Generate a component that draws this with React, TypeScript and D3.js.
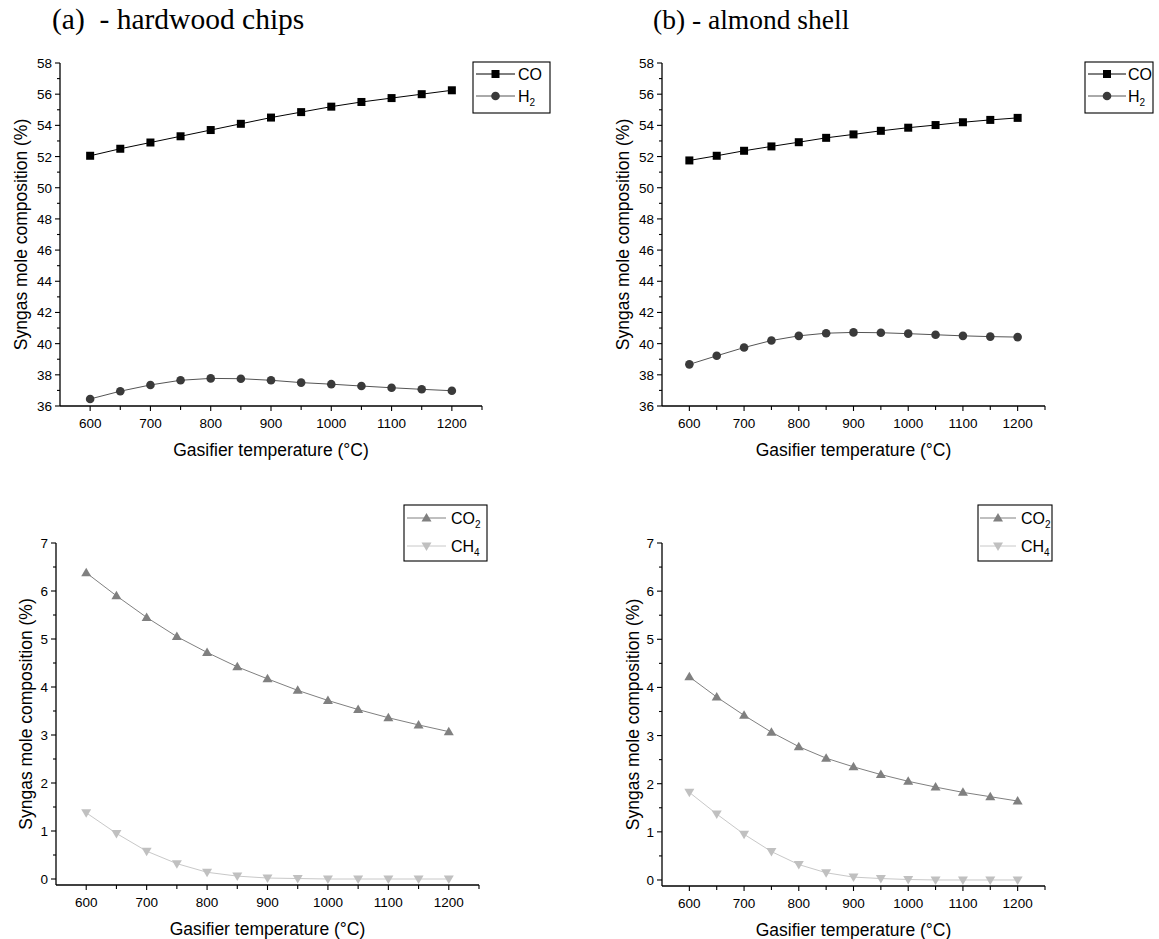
import React from "react";
import * as d3 from "d3";

const temps = [600, 650, 700, 750, 800, 850, 900, 950, 1000, 1050, 1100, 1150, 1200];

const coHardwood = [52.05, 52.5, 52.9, 53.3, 53.7, 54.1, 54.5, 54.85, 55.2, 55.5, 55.75, 56.0, 56.25];
const h2Hardwood = [36.45, 36.95, 37.35, 37.65, 37.77, 37.75, 37.65, 37.5, 37.4, 37.28, 37.17, 37.07, 36.98];
const co2Hardwood = [6.38, 5.9, 5.45, 5.05, 4.72, 4.42, 4.17, 3.93, 3.72, 3.53, 3.36, 3.21, 3.07];
const ch4Hardwood = [1.38, 0.95, 0.58, 0.32, 0.14, 0.06, 0.02, 0.01, 0.0, 0.0, 0.0, 0.0, 0.0];

const coAlmond = [51.75, 52.05, 52.37, 52.65, 52.92, 53.2, 53.42, 53.65, 53.85, 54.02, 54.2, 54.35, 54.48];
const h2Almond = [38.67, 39.22, 39.75, 40.2, 40.5, 40.67, 40.72, 40.7, 40.64, 40.57, 40.5, 40.45, 40.42];
const co2Almond = [4.22, 3.8, 3.42, 3.07, 2.77, 2.53, 2.35, 2.19, 2.05, 1.93, 1.82, 1.73, 1.64];
const ch4Almond = [1.82, 1.37, 0.95, 0.59, 0.32, 0.15, 0.06, 0.03, 0.01, 0.0, 0.0, 0.0, 0.0];

const xTicks = [600, 700, 800, 900, 1000, 1100, 1200];
const xMinorTicks = [650, 750, 850, 950, 1050, 1150, 1250];
const yTicksTop = [36, 38, 40, 42, 44, 46, 48, 50, 52, 54, 56, 58];
const yMinorTop = [37, 39, 41, 43, 45, 47, 49, 51, 53, 55, 57];
const yTicksBottom = [0, 1, 2, 3, 4, 5, 6, 7];
const yMinorBottom = [0.5, 1.5, 2.5, 3.5, 4.5, 5.5, 6.5];

const titles = ["(a)  - hardwood chips", "(b) - almond shell"];
const xTitle = "Gasifier temperature (°C)";
const yTitle = "Syngas mole composition (%)";

const SANS = "Arial, 'Liberation Sans', sans-serif";
const SERIF = "'Times New Roman', 'Liberation Serif', serif";
const TICK_FS = 13.5;
const TITLE_FS = 17.5;
const LEG_FS = 16;

type SeriesDef = { name: string; sub?: string; values: number[]; color: string; line: string; marker: string };

function Marker({ kind, x, y, color }: { kind: string; x: number; y: number; color: string }) {
  if (kind === "square") return <rect x={x - 4} y={y - 4} width={8} height={8} fill={color} />;
  if (kind === "circle") return <circle cx={x} cy={y} r={4.3} fill={color} />;
  if (kind === "up") return <path d={`M${x},${y - 5} L${x + 5},${y + 3.5} L${x - 5},${y + 3.5} Z`} fill={color} />;
  return <path d={`M${x},${y + 5} L${x + 5},${y - 3.5} L${x - 5},${y - 3.5} Z`} fill={color} />;
}

function Panel(props: {
  xr: [number, number];
  yDomain: [number, number];
  yr: [number, number];
  yTicks: number[];
  yMinor: number[];
  series: SeriesDef[];
  legend: { x: number; y: number; w: number; h: number; lineX0: number; lineX1: number; textX: number; rows: number[] };
  yLabelX: number;
}) {
  const { xr, yDomain, yr, yTicks, yMinor, series, legend, yLabelX } = props;
  const x = d3.scaleLinear().domain([550, 1250]).range(xr);
  const y = d3.scaleLinear().domain(yDomain).range(yr);
  const axisY = yr[0];
  const topY = yr[1];
  const lineGen = d3
    .line<number>()
    .x((_, i) => x(temps[i]))
    .y((v) => y(v));
  return (
    <g>
      {series.map((s) => (
        <g key={s.name + (s.sub || "")}>
          <path d={lineGen(s.values) || ""} fill="none" stroke={s.line} strokeWidth={1} />
          {s.values.map((v, i) => (
            <Marker key={i} kind={s.marker} x={x(temps[i])} y={y(v)} color={s.color} />
          ))}
        </g>
      ))}
      <line x1={xr[0]} x2={xr[1]} y1={axisY} y2={axisY} stroke="#000" strokeWidth={1.3} />
      <line x1={xr[0]} x2={xr[0]} y1={topY} y2={axisY} stroke="#000" strokeWidth={1.3} />
      {xTicks.map((t) => (
        <g key={t}>
          <line x1={x(t)} x2={x(t)} y1={axisY} y2={axisY + 5} stroke="#000" strokeWidth={1.1} />
          <text x={x(t)} y={axisY + 22} textAnchor="middle" fontFamily={SANS} fontSize={TICK_FS} fill="#000">
            {t}
          </text>
        </g>
      ))}
      {xMinorTicks.map((t) => (
        <line key={t} x1={x(t)} x2={x(t)} y1={axisY} y2={axisY + 4} stroke="#000" strokeWidth={1.1} />
      ))}
      {yTicks.map((t) => (
        <g key={t}>
          <line x1={xr[0] - 5} x2={xr[0]} y1={y(t)} y2={y(t)} stroke="#000" strokeWidth={1.1} />
          <text x={xr[0] - 8} y={y(t) + 5} textAnchor="end" fontFamily={SANS} fontSize={TICK_FS} fill="#000">
            {t}
          </text>
        </g>
      ))}
      {yMinor.map((t) => (
        <line key={t} x1={xr[0] - 3} x2={xr[0]} y1={y(t)} y2={y(t)} stroke="#000" strokeWidth={1.1} />
      ))}
      <text
        x={(xr[0] + xr[1]) / 2}
        y={axisY + 50}
        textAnchor="middle"
        fontFamily={SANS}
        fontSize={TITLE_FS}
        fill="#000"
      >
        {xTitle}
      </text>
      <text
        transform={`translate(${yLabelX},${(axisY + topY) / 2}) rotate(-90)`}
        textAnchor="middle"
        dy={6}
        fontFamily={SANS}
        fontSize={TITLE_FS}
        fill="#000"
      >
        {yTitle}
      </text>
      <rect x={legend.x} y={legend.y} width={legend.w} height={legend.h} fill="#fff" stroke="#000" strokeWidth={1.1} />
      {series.map((s, i) => {
        const ry = legend.rows[i];
        const mx = (legend.lineX0 + legend.lineX1) / 2;
        return (
          <g key={s.name + (s.sub || "")}>
            <line x1={legend.lineX0} x2={legend.lineX1} y1={ry} y2={ry} stroke={s.line} strokeWidth={1} />
            <Marker kind={s.marker} x={mx} y={ry} color={s.color} />
            <text x={legend.textX} y={ry + 6} fontFamily={SANS} fontSize={LEG_FS} fill="#000">
              {s.name}
              {s.sub ? (
                <tspan fontSize={10} dy={4}>
                  {s.sub}
                </tspan>
              ) : null}
            </text>
          </g>
        );
      })}
    </g>
  );
}

export default function App() {
  const coColor = "#000000";
  const h2Color = "#3a3a3a";
  const co2Color = "#808080";
  const ch4Color = "#c0c0c0";
  const topSeries = (co: number[], h2: number[]): SeriesDef[] => [
    { name: "CO", values: co, color: coColor, line: "#000", marker: "square" },
    { name: "H", sub: "2", values: h2, color: h2Color, line: "#555", marker: "circle" },
  ];
  const bottomSeries = (co2: number[], ch4: number[]): SeriesDef[] => [
    { name: "CO", sub: "2", values: co2, color: co2Color, line: "#808080", marker: "up" },
    { name: "CH", sub: "4", values: ch4, color: ch4Color, line: "#c8c8c8", marker: "down" },
  ];
  return (
    <svg
      width={1159}
      height={939}
      style={{ position: "absolute", left: 0, top: 0, background: "#fff" }}
    >
      <rect x={0} y={0} width={1159} height={939} fill="#fff" />
      <text x={52} y={29} fontFamily={SERIF} fontSize={29.5} fill="#000" style={{ whiteSpace: "pre" }}>
        {titles[0]}
      </text>
      <text x={653} y={29} fontFamily={SERIF} fontSize={27.5} fill="#000" style={{ whiteSpace: "pre" }}>
        {titles[1]}
      </text>
      <Panel
        xr={[60, 482]}
        yDomain={[36, 58]}
        yr={[406, 63]}
        yTicks={yTicksTop}
        yMinor={yMinorTop}
        series={topSeries(coHardwood, h2Hardwood)}
        legend={{ x: 473, y: 62, w: 77, h: 51, lineX0: 476, lineX1: 515, textX: 518, rows: [74, 96] }}
        yLabelX={21}
      />
      <Panel
        xr={[662, 1045]}
        yDomain={[36, 58]}
        yr={[406, 63]}
        yTicks={yTicksTop}
        yMinor={yMinorTop}
        series={topSeries(coAlmond, h2Almond)}
        legend={{ x: 1085, y: 62, w: 68, h: 51, lineX0: 1088, lineX1: 1126, textX: 1128, rows: [74, 96] }}
        yLabelX={623}
      />
      <Panel
        xr={[56, 479]}
        yDomain={[-0.125, 7]}
        yr={[885, 543]}
        yTicks={yTicksBottom}
        yMinor={yMinorBottom}
        series={bottomSeries(co2Hardwood, ch4Hardwood)}
        legend={{ x: 404, y: 505, w: 83, h: 56, lineX0: 407, lineX1: 446, textX: 451, rows: [518, 546] }}
        yLabelX={26}
      />
      <Panel
        xr={[662, 1045]}
        yDomain={[-0.125, 7]}
        yr={[886, 543]}
        yTicks={yTicksBottom}
        yMinor={yMinorBottom}
        series={bottomSeries(co2Almond, ch4Almond)}
        legend={{ x: 978, y: 505, w: 74, h: 56, lineX0: 980, lineX1: 1016, textX: 1021, rows: [518, 546] }}
        yLabelX={633}
      />
    </svg>
  );
}
